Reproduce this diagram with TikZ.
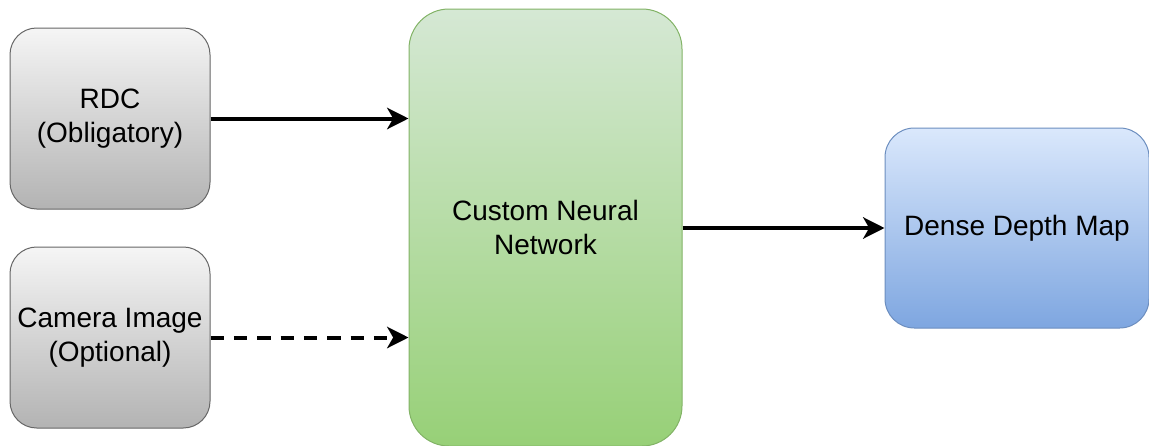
\documentclass[tikz,border=0pt]{standalone}
\usepackage{fontspec}
\setmainfont{Liberation Sans}
\usetikzlibrary{arrows.meta}

\definecolor{grayTop}{HTML}{F5F5F5}
\definecolor{grayBot}{HTML}{B3B3B3}
\definecolor{grayLine}{HTML}{666666}
\definecolor{greenTop}{HTML}{D5E8D4}
\definecolor{greenBot}{HTML}{97D077}
\definecolor{greenLine}{HTML}{82B366}
\definecolor{blueTop}{HTML}{DAE8FC}
\definecolor{blueBot}{HTML}{7EA6E0}
\definecolor{blueLine}{HTML}{6C8EBF}

\begin{document}
\begin{tikzpicture}[x=0.75pt, y=-0.75pt,
    box/.style={rectangle, align=center, line width=0.75pt, inner sep=0pt,
        font=\fontsize{21}{25}\selectfont},
    inbox/.style={box, draw=grayLine, top color=grayTop, bottom color=grayBot,
        rounded corners=20pt, minimum width=150pt, minimum height=135.75pt},
    flow/.style={line width=3pt, -{Stealth[length=16pt, width=16pt, inset=4.5pt]}}]

    \useasboundingbox (0,0) rectangle (1149,446);

    \node[inbox] (rdc) at (110,118.5) {RDC\\(Obligatory)};
    \node[inbox] (cam) at (110,337.5) {Camera Image\\(Optional)};
    \node[box, draw=greenLine, top color=greenTop, bottom color=greenBot,
        rounded corners=30pt, minimum width=204.75pt, minimum height=327.75pt]
        (cnn) at (545.5,227.5) {Custom Neural\\Network};
    \node[box, draw=blueLine, top color=blueTop, bottom color=blueBot,
        rounded corners=22pt, minimum width=198pt, minimum height=150pt]
        (ddm) at (1017,228) {Dense Depth Map};

    \draw[flow] (rdc.east) -- (cnn.west |- rdc.east);
    \draw[flow, dash pattern=on 10pt off 7.5pt] (cam.east) -- (cnn.west |- cam.east);
    \draw[flow] (cnn.east |- ddm.west) -- (ddm.west);

\end{tikzpicture}
\end{document}
